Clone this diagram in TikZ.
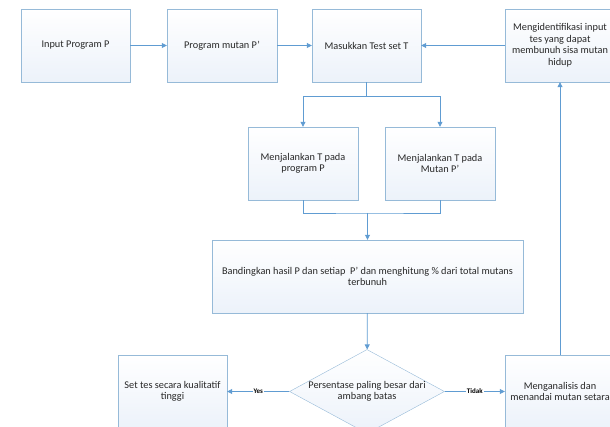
\documentclass[tikz,border=0pt]{standalone}
\usepackage{fontspec}
\setmainfont{Carlito}
\usepackage{xcolor}
\usetikzlibrary{shapes,arrows.meta,positioning}

\definecolor{boxline}{RGB}{150,186,216}
\definecolor{flowline}{RGB}{96,156,210}
\definecolor{boxfill}{RGB}{236,242,250}
\definecolor{textgray}{RGB}{40,40,40}

\begin{document}
\begin{tikzpicture}[
			x=1pt, y=-1pt,
			font=\fontsize{10.3}{11.5}\selectfont, text=textgray,
			process/.style={rectangle, draw=boxline, top color=white, bottom color=boxfill, minimum width=109pt, minimum height=73pt, text centered, align=center},
			decision/.style={diamond, draw=boxline, top color=white, bottom color=boxfill, aspect=1.85, inner sep=-4pt, minimum width=155pt, minimum height=84pt, text centered, align=center},
			line/.style={draw, flowline, thick},
			arrow/.style={draw, flowline, thick, -{Triangle[length=5pt,width=5pt]}},
			answer/.style={fill=white, text=black, inner sep=1pt, font=\fontsize{7}{8}\selectfont\bfseries}
			]
			\useasboundingbox (0,0) rectangle (610,427);
			\clip (0,0) rectangle (610,427);
			
			% baris atas
			\node (input) [process] at (75.5,45.5) {Input Program P};
			\node (mutan) [process, minimum width=110pt] at (222,45.5) {Program mutan P'};
			\node (test) [process] at (366.5,45.5) {Masukkan Test set T};
			\node (ident) [process, minimum width=110pt] at (560,45.5) {Mengidentifikasi input\\tes yang dapat\\membunuh sisa mutan\\hidup};
			
			% eksekusi
			\node (runP) [process, minimum width=110pt] at (303,163.5) {Menjalankan T pada\\program P};
			\node (runM) [process, minimum width=110pt] at (440,163.5) {Menjalankan T pada\\Mutan P'};
			\node (cmp) [process, minimum width=311pt] at (367.5,276.5) {Bandingkan hasil P dan setiap \ P' dan menghitung \% dari total mutans\\terbunuh};
			
			% keputusan
			\node (dia) [decision] at (367,391.5) {Persentase paling besar dari\\ambang batas};
			\node (high) [process] at (172.5,391.5) {Set tes secara kualitatif\\tinggi};
			\node (anal) [process, minimum width=110pt] at (560,391.5) {Menganalisis dan\\menandai mutan setara};
			
			\coordinate (split) at (366.5,96);
			\coordinate (join) at (367.5,213);
			
			% panah
			\draw [arrow] (input) -- (mutan);
			\draw [arrow] (mutan) -- (test);
			\draw [arrow] (ident) -- (test);
			\draw [line] (test) -- (split);
			\draw [arrow] (split) -| (runP);
			\draw [arrow] (split) -| (runM);
			\draw [line] (runP) |- (join) -| (runM);
			\draw [arrow] (join) -- (cmp);
			\draw [arrow] (cmp) -- (dia);
			\draw [arrow] (dia) -- node [answer] {Yes} (high);
			\draw [arrow] (dia) -- node [answer] {Tidak} (anal);
			\draw [arrow] (anal) -- (ident);
			
		\end{tikzpicture}
\end{document}
